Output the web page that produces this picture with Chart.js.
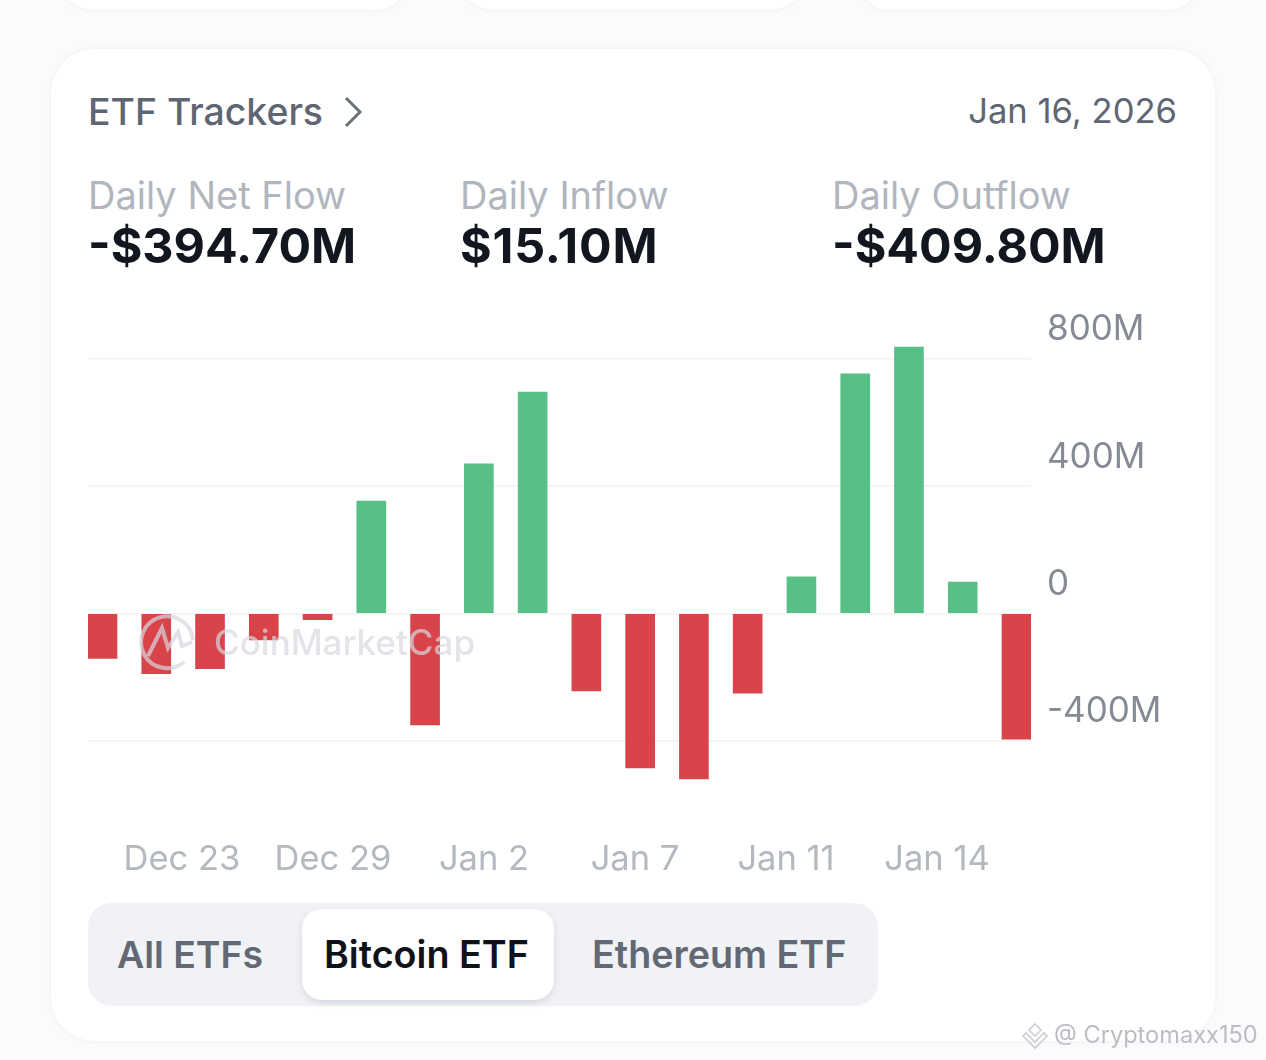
<!DOCTYPE html>
<html><head><meta charset="utf-8">
<script src="https://cdn.jsdelivr.net/npm/chart.js@4"></script>
<style>
html,body{margin:0;padding:0;width:1266px;height:1060px;overflow:hidden;background:#fbfbfd;font-family:Inter,"Noto Sans",sans-serif}
.a{position:absolute;white-space:nowrap;line-height:1}
.card{position:absolute;background:#fff;box-shadow:0 0 4px rgba(232,234,240,.7)}
canvas{position:absolute;left:0;top:0}
.v{font-size:48.4px;font-weight:700;color:#12161e}
</style></head><body>
<div class="card" style="left:58px;top:-60px;width:352px;height:70px;border-radius:36px"></div>
<div class="card" style="left:458px;top:-60px;width:348px;height:70px;border-radius:36px"></div>
<div class="card" style="left:856px;top:-60px;width:346px;height:70px;border-radius:36px"></div>
<div class="card" style="left:51px;top:49px;width:1164px;height:992px;border-radius:44px"></div>

<div class="a" id="title" style="left:88px;top:93px;font-size:37.4px;font-weight:500;color:#5f6673">ETF Trackers</div>
<svg class="a" style="left:340px;top:94px" width="26" height="36"><path d="M6 4 L20 18 L6 32" fill="none" stroke="#6b717c" stroke-width="3"/></svg>
<div class="a" style="right:89px;top:93px;font-size:34.6px;color:#5f6673">Jan 16, 2026</div>

<div class="a" style="left:88px;top:176px;font-size:38px;color:#b1b5bd">Daily Net Flow</div>
<div class="a" style="left:460px;top:176px;font-size:38px;color:#b1b5bd">Daily Inflow</div>
<div class="a" style="left:832px;top:176px;font-size:38px;color:#b1b5bd">Daily Outflow</div>
<div class="a v" style="left:88px;top:222px">-$394.70M</div>
<div class="a v" style="left:460px;top:222px;letter-spacing:.8px">$15.10M</div>
<div class="a v" style="left:832px;top:222px">-$409.80M</div>

<div class="a" style="left:88px;top:903px;width:790px;height:103px;border-radius:24px;background:#f0f2f5"></div>
<div class="a" style="left:302px;top:909px;width:252px;height:91px;border-radius:20px;background:#fff;box-shadow:0 3px 6px rgba(140,145,160,.25)"></div>
<div class="a" style="left:117px;top:936px;font-size:37.4px;font-weight:600;color:#626874">All ETFs</div>
<div class="a" style="left:324px;top:936px;font-size:37.7px;font-weight:600;color:#0f1219">Bitcoin ETF</div>
<div class="a" style="left:592px;top:936px;font-size:37.7px;font-weight:600;color:#626874">Ethereum ETF</div>

<canvas id="c" width="1266" height="1060" style="width:1266px;height:1060px"></canvas>

<svg class="a" style="left:138px;top:612px;opacity:.7" width="60" height="62" viewBox="0 0 60 62">
<path d="M46 50 A26 26 0 1 1 55 28" fill="none" stroke="#d5d8df" stroke-width="4"/>
<path d="M10 44 L24 16 L30 36 L40 20 L44 34 L54 30" fill="none" stroke="#d5d8df" stroke-width="4"/>
</svg>
<div class="a" style="left:214px;top:625px;font-size:35px;font-weight:500;color:rgba(213,216,224,.7)">CoinMarketCap</div>

<svg class="a" style="left:1021px;top:1022px" width="28" height="28" viewBox="0 0 28 28">
<path d="M14 2 L20 8 L14 14 L8 8 Z M5 11 L10 16 L14 20 L18 16 L23 11 L26 14 L14 26 L2 14 Z" fill="none" stroke="#c9ccd2" stroke-width="1.6"/>
</svg>
<div class="a" style="left:1054px;top:1023px;font-size:23.6px;color:#babdc3">@ Cryptomaxx150</div>

<script>
const flows=[-141,-189,-173,-83,-19,353,-350,470,696,-243,-485,-520,-250,115,753,837,99,-394.7];
const xTickLabels=["Dec 23","Dec 29","Jan 2","Jan 7","Jan 11","Jan 14"];
const yTickValues=[-400,0,400,800];
const yTickLabels=["-400M","0","400M","800M"];
const GREEN="#58bf87",RED="#d9444a";

new Chart(document.getElementById("c"),{
  type:"bar",
  data:{datasets:[{
    data:flows.map((v,i)=>({x:i,y:v})),
    backgroundColor:flows.map(v=>v>=0?GREEN:RED),
    barThickness:29,
    borderWidth:0,
    xAxisID:"x",yAxisID:"y"
  }]},
  options:{
    responsive:false,animation:false,devicePixelRatio:1,
    layout:{padding:{left:88,top:327.1,right:0,bottom:0}},
    plugins:{legend:{display:false},tooltip:{enabled:false},title:{display:false}},
    scales:{
      x:{type:"linear",display:false,offset:false,min:-0.2697,max:17.2697},
      x2:{type:"linear",position:"bottom",offset:false,min:-0.6225,max:5.6225,
        grid:{display:false},border:{display:false},
        afterBuildTicks:s=>{s.ticks=xTickLabels.map((_,i)=>({value:i}));},
        afterFit:s=>{s.height=255.55;},
        ticks:{autoSkip:false,maxRotation:0,padding:26,color:"#b4b8bf",font:{family:"Inter",size:34.5},
          callback:(v)=>xTickLabels[v]}
      },
      y:{type:"linear",position:"right",min:-600,max:900,
        afterBuildTicks:s=>{s.ticks=yTickValues.map(v=>({value:v}));},
        afterFit:s=>{s.width=235;},
        grid:{color:"#f1f2f4",lineWidth:1.5,drawTicks:false},border:{display:false},
        ticks:{autoSkip:false,padding:16,labelOffset:-29,color:"#858a95",font:{family:"Inter",size:35},
          callback:v=>yTickLabels[yTickValues.indexOf(v)]}
      }
    }
  }
});
</script>
</body></html>
